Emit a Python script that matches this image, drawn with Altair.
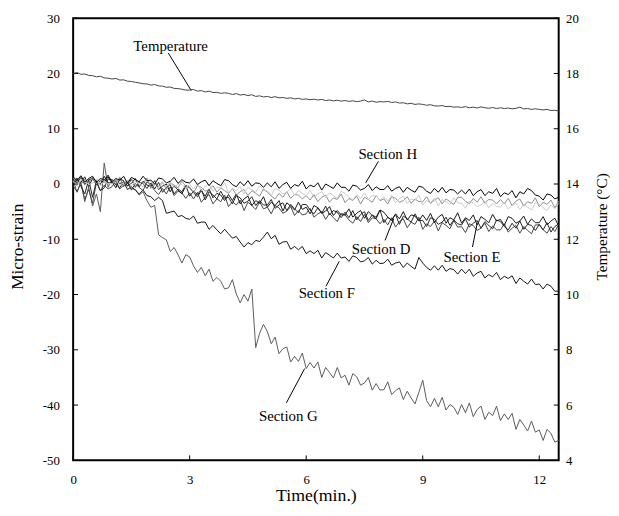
import altair as alt
import pandas as pd

FONT = "Liberation Serif"
TIME_STEP = 0.1  # sampling interval of the readings (min)

# ---------------- data ----------------
TEMPERATURE = [
    18.00, 18.03, 17.97, 17.98, 17.93, 17.92, 17.88, 17.90, 17.84, 17.83,
    17.80, 17.82, 17.76, 17.77, 17.72, 17.71, 17.68, 17.66, 17.63, 17.62,
    17.58, 17.60, 17.55, 17.54, 17.50, 17.51, 17.46, 17.45, 17.43, 17.40,
    17.40, 17.42, 17.36, 17.38, 17.33, 17.36, 17.31, 17.32, 17.28, 17.30,
    17.28, 17.24, 17.27, 17.22, 17.24, 17.20, 17.23, 17.17, 17.19, 17.15,
    17.17, 17.13, 17.16, 17.12, 17.13, 17.10, 17.12, 17.08, 17.10, 17.06,
    17.08, 17.05, 17.07, 17.04, 17.06, 17.02, 17.04, 17.01, 17.03, 17.00,
    17.02, 16.99, 17.01, 16.98, 17.00, 17.04, 16.97, 17.00, 16.96, 16.98,
    16.97, 16.99, 16.95, 16.97, 16.93, 16.94, 16.90, 16.92, 16.88, 16.90,
    16.88, 16.85, 16.87, 16.83, 16.82, 16.84, 16.80, 16.81, 16.78, 16.79,
    16.77, 16.80, 16.76, 16.78, 16.75, 16.79, 16.76, 16.74, 16.77, 16.73,
    16.76, 16.73, 16.75, 16.72, 16.74, 16.78, 16.72, 16.73, 16.70, 16.72,
    16.70, 16.68, 16.70, 16.66, 16.67, 16.64,
]

SECTION_H = [
    1.3, 0.6, 1.5, 0.3, 1.0, 1.4, 0.3, 1.0, 0.7, 1.6,
    0.3, 1.0, 0.7, 1.4, 0.1, 1.2, 0.8, 0.4, 1.4, 0.6,
    0.7, 0.0, 1.1, 0.9, 0.2, 0.5, 1.2, 0.1, 0.8, 0.3,
    0.2, 0.9, -0.1, 0.4, 0.7, -0.3, 0.6, 0.1, -0.3, 0.8,
    0.6, -0.1, -0.5, 0.4, -0.3, 0.6, -0.4, 0.2, 0.1, -0.6,
    0.2, -0.5, 0.4, -0.8, -0.1, 0.3, -0.8, -0.1, -0.4, 0.5,
    -0.9, -0.2, -0.5, 0.2, -1.1, 0.0, -0.4, -0.8, 0.2, -0.6,
    -0.6, -1.3, -0.2, -0.4, -1.1, -0.8, -0.1, -1.2, -0.5, -1.0,
    -1.0, -0.3, -1.3, -0.8, -0.5, -1.5, -0.6, -1.1, -1.5, -0.4,
    -0.6, -1.3, -1.7, -0.8, -1.5, -0.6, -1.6, -1.0, -1.1, -1.8,
    -1.1, -1.8, -0.9, -2.1, -1.4, -1.0, -2.1, -1.4, -1.7, -0.8,
    -2.3, -1.6, -1.9, -1.2, -2.5, -1.4, -1.8, -0.8, -1.2, -2.0,
    -2.2, -2.9, -1.8, -2.0, -2.7, -2.4,
]

LIGHT_GRAY = [
    0.5, -0.4, 0.9, 0.6, -0.1, 0.2, 0.9, -0.3, 0.5, 0.0,
    0.0, 0.9, -0.3, 0.3, 0.7, -0.4, 0.5, 0.0, -0.5, 0.8,
    0.4, -0.3, -0.8, 0.2, -0.5, 0.5, -0.7, 0.0, -0.1, -0.8,
    -0.1, -0.9, 0.1, -1.2, -0.4, 0.0, -1.3, -0.5, -0.8, 0.2,
    -1.6, -0.8, -1.2, -0.4, -1.8, -0.6, -1.0, -1.5, -0.3, -1.2,
    -1.2, -2.1, -0.8, -1.1, -1.8, -1.5, -0.8, -2.0, -1.2, -1.7,
    -2.1, -1.2, -2.4, -1.8, -1.4, -2.5, -1.6, -2.1, -2.6, -1.3,
    -1.7, -2.4, -2.9, -1.9, -2.6, -1.6, -2.8, -2.1, -2.2, -2.9,
    -2.3, -3.1, -2.1, -3.4, -2.6, -2.2, -3.5, -2.7, -3.0, -2.0,
    -3.8, -3.0, -3.4, -2.6, -4.0, -2.8, -3.2, -3.7, -2.5, -3.4,
    -3.5, -4.4, -3.1, -3.4, -4.1, -3.8, -3.1, -4.3, -3.5, -4.0,
    -4.2, -3.3, -4.5, -3.9, -3.5, -4.6, -3.7, -4.2, -4.7, -3.4,
    -3.6, -4.3, -4.8, -3.8, -4.5, -3.5,
]

MEDIUM_GRAY = [
    1.1, 0.4, -0.1, 0.9, 0.2, 1.2, 0.0, 0.7, 0.6, -0.1,
    0.8, 0.0, 1.0, -0.3, 0.5, 0.9, -0.4, 0.4, 0.1, 1.1,
    -0.8, 0.0, -0.4, 0.4, -1.0, 0.2, -0.2, -0.7, 0.5, -0.4,
    -0.7, -1.6, -0.3, -0.6, -1.3, -1.0, -0.3, -1.5, -0.7, -1.2,
    -1.7, -0.8, -2.0, -1.4, -1.0, -2.1, -1.2, -1.7, -2.2, -0.9,
    -1.5, -2.2, -2.7, -1.7, -2.4, -1.4, -2.6, -1.9, -2.0, -2.7,
    -2.1, -2.9, -1.9, -3.2, -2.4, -2.0, -3.3, -2.5, -2.8, -1.8,
    -3.4, -2.6, -3.0, -2.2, -3.6, -2.4, -2.8, -3.3, -2.1, -3.0,
    -2.7, -3.6, -2.3, -2.6, -3.3, -3.0, -2.3, -3.5, -2.7, -3.2,
    -3.2, -2.3, -3.5, -2.9, -2.5, -3.6, -2.7, -3.2, -3.7, -2.4,
    -2.4, -3.1, -3.6, -2.6, -3.3, -2.3, -3.5, -2.8, -2.9, -3.6,
    -2.8, -3.6, -2.6, -3.9, -3.1, -2.7, -4.0, -3.2, -3.5, -2.5,
    -4.1, -3.3, -3.7, -2.9, -4.3, -3.1,
]

SECTION_D = [
    -0.2, 0.8, 0.3, 1.3, -0.5, 1.0, 0.5, -0.1, 1.4, 0.2,
    0.4, -0.7, 0.9, 0.6, -0.3, 0.1, 1.0, -0.5, 0.5, -0.2,
    -0.4, 0.6, -1.0, -0.4, 0.0, -1.4, -0.3, -1.1, -1.8, -0.3,
    -0.6, -1.6, -2.3, -1.2, -2.2, -0.9, -2.5, -1.7, -2.0, -3.0,
    -1.9, -3.0, -1.8, -3.6, -2.7, -2.2, -3.9, -3.0, -3.5, -2.3,
    -4.2, -3.3, -3.9, -3.0, -4.9, -3.4, -4.0, -4.7, -3.3, -4.6,
    -4.2, -5.4, -3.9, -4.3, -5.3, -4.9, -4.1, -5.7, -4.8, -5.6,
    -5.6, -4.5, -6.0, -5.3, -4.8, -6.2, -5.0, -5.7, -6.3, -4.7,
    -5.1, -6.0, -6.6, -5.4, -6.3, -5.0, -6.5, -5.6, -5.8, -6.7,
    -5.6, -6.6, -5.3, -7.0, -6.0, -5.5, -7.1, -6.1, -6.5, -5.2,
    -7.1, -6.1, -6.6, -5.6, -7.4, -5.9, -6.4, -7.0, -5.5, -6.7,
    -6.4, -7.5, -5.9, -6.2, -7.1, -6.7, -5.8, -7.3, -6.3, -7.0,
    -7.0, -5.9, -7.4, -6.7, -6.2, -7.6,
]

SECTION_E = [
    0.0, 1.1, -0.4, -1.8, 0.8, -2.4, 0.6, -1.2, -0.7, 0.9,
    0.8, -0.1, -0.7, 0.5, -0.4, 0.9, -0.6, 0.3, 0.1, -0.8,
    0.2, -0.9, 0.3, -1.5, -0.6, -0.1, -1.8, -0.9, -1.4, -0.2,
    -2.2, -1.3, -1.9, -1.0, -2.9, -1.4, -2.0, -2.7, -1.3, -2.6,
    -2.4, -3.6, -2.1, -2.5, -3.5, -3.1, -2.3, -3.9, -3.0, -3.8,
    -3.8, -2.8, -4.4, -3.8, -3.4, -4.8, -3.7, -4.5, -5.2, -3.7,
    -3.7, -4.7, -5.4, -4.3, -5.3, -4.0, -5.6, -4.8, -5.1, -6.1,
    -5.1, -6.1, -4.8, -6.5, -5.5, -5.0, -6.6, -5.6, -6.0, -4.7,
    -7.0, -6.0, -6.5, -5.5, -7.3, -5.8, -6.3, -6.9, -5.4, -6.6,
    -6.6, -7.7, -6.1, -6.4, -7.3, -6.9, -6.0, -7.5, -6.5, -7.2,
    -7.4, -6.3, -7.8, -7.1, -6.6, -8.0, -6.8, -7.5, -8.1, -6.5,
    -6.8, -7.7, -8.3, -7.1, -8.0, -6.7, -8.2, -7.3, -7.5, -8.4,
    -7.3, -8.3, -7.0, -8.7, -7.7, -7.2,
]

DARK_GRAY = [
    -0.3, -1.4, 0.2, -2.8, -1.0, -3.5, 0.3, -1.2, -0.2, -0.9,
    -0.5, 0.6, -0.9, -0.2, 0.3, -1.1, 0.1, -0.6, -1.2, 0.4,
    -0.2, -1.2, -1.9, -0.8, -1.8, -0.5, -2.1, -1.3, -1.6, -2.6,
    -1.6, -2.7, -1.5, -3.3, -2.4, -1.9, -3.6, -2.7, -3.2, -2.0,
    -4.1, -3.2, -3.8, -2.9, -4.8, -3.3, -3.9, -4.6, -3.2, -4.5,
    -4.2, -5.4, -3.9, -4.3, -5.3, -4.9, -4.1, -5.7, -4.8, -5.6,
    -5.4, -4.4, -6.0, -5.4, -5.0, -6.4, -5.3, -6.1, -6.8, -5.3,
    -5.6, -6.5, -7.1, -5.9, -6.8, -5.5, -7.0, -6.1, -6.3, -7.2,
    -6.4, -7.4, -6.1, -7.8, -6.8, -6.3, -7.9, -6.9, -7.3, -6.0,
    -8.2, -7.2, -7.7, -6.7, -8.5, -7.0, -7.5, -8.1, -6.6, -7.8,
    -7.7, -8.8, -7.2, -7.5, -8.4, -8.0, -7.1, -8.6, -7.6, -8.3,
    -8.3, -7.2, -8.7, -8.0, -7.5, -8.9, -7.7, -8.4, -9.0, -7.4,
    -7.4, -8.3, -8.9, -7.7, -8.6, -7.3,
]

SECTION_F = [
    1.0, 0.2, 1.2, -0.1, 0.7, 1.1, -0.2, 0.6, 0.3, 1.3,
    0.1, 0.8, 0.1, 0.3, -1.0, -0.5, -1.1, -1.8, -1.1, -2.1,
    -2.3, -3.0, -2.4, -3.0, -5.3, -5.1, -4.9, -5.9, -5.7, -6.2,
    -6.4, -5.8, -7.1, -6.9, -6.9, -8.2, -7.5, -8.3, -9.0, -8.2,
    -9.0, -9.8, -9.5, -10.5, -11.4, -10.6, -11.0, -10.2, -10.4, -9.6,
    -8.7, -9.9, -9.3, -10.9, -10.5, -10.4, -11.8, -11.3, -11.9, -11.3,
    -12.6, -12.1, -12.6, -12.0, -13.4, -12.4, -12.9, -13.4, -12.5, -13.4,
    -13.2, -14.0, -13.0, -13.3, -14.1, -13.9, -13.3, -14.5, -13.8, -14.4,
    -14.3, -13.6, -14.7, -14.3, -14.1, -15.1, -14.3, -14.9, -15.4, -13.3,
    -14.3, -15.1, -15.6, -14.8, -15.6, -14.7, -15.8, -15.3, -15.5, -16.3,
    -15.4, -16.2, -15.4, -16.7, -16.1, -15.8, -17.0, -16.4, -16.8, -16.0,
    -17.3, -16.7, -17.1, -16.6, -18.0, -17.0, -17.6, -18.1, -17.2, -18.2,
    -18.1, -19.0, -18.1, -18.5, -19.4, -19.4,
]

SECTION_G = [
    0.8, -1.5, 0.3, -3.2, -0.5, -4.0, -1.8, -5.0, 3.8, -0.6,
    0.9, -0.2, 1.2, -0.5, 0.4, -0.8, -1.0, -2.0, -1.4, -3.0,
    -4.2, -3.9, -9.2, -9.7, -10.1, -12.2, -11.5, -12.8, -14.3, -12.8,
    -13.2, -14.8, -16.0, -15.1, -16.6, -15.4, -17.6, -16.9, -17.6, -19.0,
    -18.8, -17.3, -19.9, -21.5, -20.0, -21.2, -19.0, -29.6, -27.0, -25.4,
    -26.7, -28.9, -27.7, -30.7, -29.8, -29.5, -32.2, -31.2, -32.1, -30.6,
    -33.4, -32.3, -33.3, -32.2, -35.0, -33.2, -34.1, -35.1, -33.2, -35.1,
    -34.6, -36.4, -34.3, -34.9, -36.4, -36.0, -35.0, -37.3, -36.1, -37.3,
    -37.2, -35.8, -38.1, -37.4, -36.9, -39.0, -37.5, -38.7, -39.8, -37.7,
    -35.5, -39.2, -40.3, -38.8, -40.3, -38.6, -40.9, -39.9, -40.4, -41.7,
    -39.9, -41.4, -39.6, -42.1, -40.8, -40.2, -42.6, -41.3, -41.9, -40.2,
    -42.8, -41.6, -42.6, -41.5, -44.4, -42.6, -43.6, -44.7, -42.9, -44.9,
    -44.5, -46.4, -44.4, -45.1, -46.7, -46.4,
]

# drawing order (back to front) and stroke colours
STRAIN_SERIES = [
    ("Section G", SECTION_G, "#5a5a5a"),
    ("Section F", SECTION_F, "#141414"),
    ("dark gray", DARK_GRAY, "#454545"),
    ("Section E", SECTION_E, "#262626"),
    ("Section D", SECTION_D, "#181818"),
    ("medium gray", MEDIUM_GRAY, "#8c8c8c"),
    ("light gray", LIGHT_GRAY, "#cacaca"),
    ("Section H", SECTION_H, "#000000"),
]

X_TICKS = [0, 3, 6, 9, 12]
LEFT_TICKS = [-50, -40, -30, -20, -10, 0, 10, 20, 30]
RIGHT_TICKS = [4, 6, 8, 10, 12, 14, 16, 18, 20]

# annotations: label position and leader line (time, micro-strain)
ANNOT_LABELS = ["Temperature", "Section H", "Section D", "Section E", "Section F", "Section G"]
ANNOT_T = [2.51, 8.10, 7.93, 10.27, 6.53, 5.54]
ANNOT_V = [25.0, 5.5, -11.7, -13.2, -19.7, -42.0]
LEADER_T1 = [2.45, 7.86, 8.03, 10.28, 6.51, 5.49]
LEADER_V1 = [23.7, 4.1, -10.2, -11.4, -18.5, -39.6]
LEADER_T2 = [3.04, 7.53, 8.25, 10.40, 6.85, 5.96]
LEADER_V2 = [16.9, 0.2, -6.3, -7.2, -14.0, -33.4]


def series_frame(values):
    return pd.DataFrame({"t": [round(i * TIME_STEP, 2) for i in range(len(values))], "v": values})


W, H = 492, 448
X_DOMAIN = [0, 12.5]
HYPHEN_LABEL = "replace(datum.label, '\u2212', '-')"

x_axis = alt.Axis(values=X_TICKS, title="Time(min.)", ticks=False, domain=False, grid=False,
                  labelFont=FONT, labelFontSize=13, labelColor="black", labelPadding=13,
                  labelFlush=False, titleFont=FONT, titleFontSize=18, titleFontWeight="normal",
                  titleColor="black", titleY=36, titleBaseline="middle")
left_axis = alt.Axis(values=LEFT_TICKS, title="Micro-strain", ticks=False, domain=False, grid=False,
                     labelFont=FONT, labelFontSize=13, labelColor="black", labelPadding=14,
                     labelFlush=False, labelExpr=HYPHEN_LABEL, titleFont=FONT, titleFontSize=17.5,
                     titleFontWeight="normal", titleColor="black", titleX=-56, titleY=231,
                     titleAngle=270, titleBaseline="middle")
right_axis = alt.Axis(orient="right", values=RIGHT_TICKS, title="Temperature (°C)", ticks=False,
                      domain=False, grid=False, labelFont=FONT, labelFontSize=13,
                      labelColor="black", labelPadding=7, labelFlush=False, titleFont=FONT,
                      titleFontSize=15.5, titleFontWeight="normal", titleColor="black",
                      titleX=43, titleY=211, titleAngle=270, titleBaseline="middle")

x_scale = alt.Scale(domain=X_DOMAIN, nice=False, zero=False)
left_scale = alt.Scale(domain=[-50, 30], nice=False, zero=False)
right_scale = alt.Scale(domain=[4, 20], nice=False, zero=False)


def X(field="t"):
    return alt.X(f"{field}:Q", scale=x_scale, axis=x_axis)


def YL(field="v"):
    return alt.Y(f"{field}:Q", scale=left_scale, axis=left_axis)


def YR(field="v"):
    return alt.Y(f"{field}:Q", scale=right_scale, axis=right_axis)


left_layers = []
for name, vals, color in STRAIN_SERIES:
    left_layers.append(
        alt.Chart(series_frame(vals)).mark_line(strokeWidth=1, color=color)
        .encode(x=X(), y=YL())
    )

annot_df = pd.DataFrame({"label": ANNOT_LABELS, "t": ANNOT_T, "v": ANNOT_V})
leader_df = pd.DataFrame({"t": LEADER_T1, "v": LEADER_V1, "t2": LEADER_T2, "v2": LEADER_V2})

left_layers.append(
    alt.Chart(leader_df).mark_rule(color="black", strokeWidth=1)
    .encode(x=X(), y=YL(), x2="t2:Q", y2="v2:Q")
)
left_layers.append(
    alt.Chart(annot_df).mark_text(font=FONT, fontSize=15, color="black", align="center",
                                  baseline="middle")
    .encode(x=X(), y=YL(), text="label:N")
)

# inward tick marks
left_layers.append(
    alt.Chart(pd.DataFrame({"v": LEFT_TICKS})).mark_rule(color="black", strokeWidth=1)
    .encode(y=YL(), x=alt.value(0), x2=alt.value(5))
)
left_layers.append(
    alt.Chart(pd.DataFrame({"t": X_TICKS})).mark_rule(color="black", strokeWidth=1)
    .encode(x=X(), y=alt.value(H - 5), y2=alt.value(H))
)

left = alt.layer(*left_layers)

temp_line = alt.Chart(series_frame(TEMPERATURE)).mark_line(strokeWidth=1, color="#444444").encode(
    x=X(), y=YR()
)
temp_ticks = alt.Chart(pd.DataFrame({"v": RIGHT_TICKS})).mark_rule(color="black", strokeWidth=1).encode(
    y=YR(), x=alt.value(W - 5), x2=alt.value(W)
)
right = alt.layer(temp_line, temp_ticks)

chart = (
    alt.layer(left, right)
    .resolve_scale(y="independent")
    .properties(width=W, height=H, autosize=alt.AutoSizeParams(type="none"),
                padding={"left": 66, "top": 7, "right": 53, "bottom": 48},
                background="white")
    .configure_view(stroke="black", strokeWidth=2)
)

chart.save("out.html", embed_options={"renderer": "svg", "actions": False})
